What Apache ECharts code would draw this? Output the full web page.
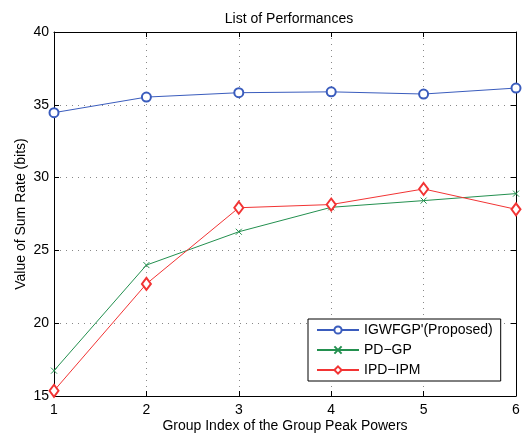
<!DOCTYPE html>
<html>
<head>
<meta charset="utf-8">
<script src="https://cdn.jsdelivr.net/npm/echarts@6/dist/echarts.min.js"></script>
<style>
  html, body { margin: 0; padding: 0; background: #fff; }
  #chart { width: 527px; height: 436px; }
</style>
</head>
<body>
<div id="chart"></div>
<script>
// Group index of the group peak powers
const groupIndex = [1, 2, 3, 4, 5, 6];
// Sum rate (bits) per method
const igwfgp = [34.46, 35.53, 35.83, 35.89, 35.74, 36.15];
const pdgp   = [16.74, 23.99, 26.28, 27.96, 28.42, 28.90];
const ipdipm = [15.36, 22.70, 27.93, 28.15, 29.22, 27.82];
const seriesNames = ["IGWFGP'(Proposed)", 'PD\u2212GP', 'IPD\u2212IPM'];

const FONT = 'Liberation Sans, Arial, Helvetica, sans-serif';
const BLUE = '#3a5cbd', GREEN = '#23904f', RED = '#f23434';

const pairs = vals => groupIndex.map((x, i) => [x, vals[i]]);
const gridDots = { show: true, lineStyle: { color: '#888', type: [1, 5], width: 1 } };
const frameLine = { show: true, onZero: false, lineStyle: { color: '#000', width: 1 } };
const inTick = { show: true, inside: true, length: 5, lineStyle: { color: '#000' } };

const chart = echarts.init(document.getElementById('chart'), null, { renderer: 'canvas' });
chart.setOption({
  backgroundColor: '#fff',
  animation: false,
  textStyle: { fontFamily: FONT },
  title: {
    text: 'List of Performances',
    left: 284, top: 7, textAlign: 'center',
    textStyle: { fontFamily: FONT, fontSize: 14, fontWeight: 'normal', color: '#000' }
  },
  grid: {
    left: 54, top: 32, right: 11, bottom: 40,
    containLabel: false, outerBoundsMode: 'none'
  },
  legend: {
    orient: 'vertical',
    left: 308, top: 319,
    padding: [4, 8, 4, 8],
    itemGap: 6,
    itemWidth: 42, itemHeight: 9,
    backgroundColor: '#fff',
    borderColor: '#000', borderWidth: 1,
    textStyle: { fontFamily: FONT, fontSize: 14, color: '#000', lineHeight: 14 },
    data: seriesNames
  },
  xAxis: [{
    type: 'value', min: 1, max: 6, interval: 1,
    name: 'Group Index of the Group Peak Powers',
    nameLocation: 'middle', nameGap: 23, nameMoveOverlap: false,
    nameTextStyle: { fontFamily: FONT, fontSize: 14, color: '#000' },
    axisLine: frameLine, axisTick: inTick,
    axisLabel: { fontFamily: FONT, fontSize: 14, color: '#000', margin: 7 },
    splitLine: gridDots
  }, {
    type: 'value', min: 1, max: 6, interval: 1, position: 'top',
    axisLine: frameLine, axisTick: inTick,
    axisLabel: { show: false }, splitLine: { show: false }
  }],
  yAxis: [{
    type: 'value', min: 15, max: 40, interval: 5,
    name: 'Value of Sum Rate (bits)',
    nameLocation: 'middle', nameGap: 26, nameMoveOverlap: false,
    nameTextStyle: { fontFamily: FONT, fontSize: 14, color: '#000' },
    axisLine: frameLine, axisTick: inTick,
    axisLabel: { fontFamily: FONT, fontSize: 14, color: '#000', margin: 5 },
    splitLine: gridDots
  }, {
    type: 'value', min: 15, max: 40, interval: 5, position: 'right',
    axisLine: frameLine, axisTick: inTick,
    axisLabel: { show: false }, splitLine: { show: false }
  }],
  series: [{
    name: seriesNames[0], type: 'line', data: pairs(igwfgp),
    symbol: 'emptyCircle', symbolSize: 9,
    lineStyle: { color: BLUE, width: 1 },
    itemStyle: { color: BLUE, borderColor: BLUE, borderWidth: 1 }
  }, {
    name: seriesNames[1], type: 'line', data: pairs(pdgp),
    symbol: 'path://M0,0L10,10M10,0L0,10', symbolSize: 6,
    lineStyle: { color: GREEN, width: 1 },
    itemStyle: { color: 'rgba(0,0,0,0)', borderColor: GREEN, borderWidth: 1 }
  }, {
    name: seriesNames[2], type: 'line', data: pairs(ipdipm),
    symbol: 'emptyDiamond', symbolSize: [9, 12],
    lineStyle: { color: RED, width: 1 },
    itemStyle: { color: RED, borderColor: RED, borderWidth: 1 }
  }]
});
</script>
</body>
</html>
